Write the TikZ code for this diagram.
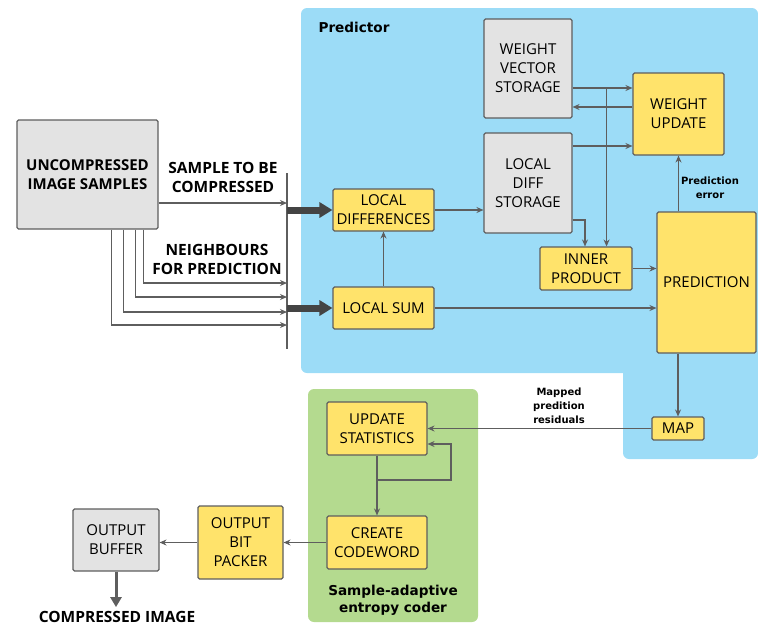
\documentclass[tikz,border=0pt]{standalone}
\usepackage{fontspec}
\setmainfont{Open Sans}
\newfontfamily\labelfont{DejaVu Sans}
\usetikzlibrary{arrows.meta,calc}
\definecolor{predblue}{HTML}{9CDCF7}
\definecolor{codergreen}{HTML}{B4DA8F}
\definecolor{boxyellow}{HTML}{FFE36B}
\definecolor{boxgray}{HTML}{E3E3E3}
\definecolor{edge}{HTML}{5E5E5E}
\definecolor{fatarrow}{HTML}{444444}
\tikzset{
  block/.style={draw=edge, line width=1.1pt, rounded corners=1.5pt, align=center,
    inner sep=0pt, font=\fontsize{15}{19}\selectfont},
  ybox/.style={block, fill=boxyellow},
  gbox/.style={block, fill=boxgray},
  arr/.style={draw=edge, line width=1.1pt, -{Stealth[length=7pt,width=6pt]}},
  fat/.style={draw=fatarrow, line width=7pt, -{Triangle[length=13pt,width=15pt]}},
  sidelabel/.style={align=center, font=\bfseries\fontsize{15.5}{19}\selectfont},
  smalllabel/.style={align=center, font=\labelfont\bfseries\fontsize{10}{14}\selectfont},
  regionlabel/.style={align=center, font=\labelfont\bfseries\fontsize{13.6}{17}\selectfont},
}
\begin{document}
\begin{tikzpicture}[x=1pt,y=-1pt]
\useasboundingbox (0,0) rectangle (758,625);

% background regions
\fill[predblue, rounded corners=6pt] (301,8) -- (758,8) -- (758,459) -- (623,459)
  {[sharp corners] -- (623,373)} -- (301,373) -- cycle;
\fill[codergreen, rounded corners=6pt] (308,389) rectangle (478,622);
\node[regionlabel] (predlbl) at (354,27) {Predictor};
\node[regionlabel] (coderlbl) at (393,600) {Sample-adaptive\\entropy coder};

% blocks
\node[gbox, minimum width=141pt, minimum height=109pt, font=\bfseries\fontsize{15}{19}\selectfont]
  (uis) at (87.5,174.5) {UNCOMPRESSED\\IMAGE SAMPLES};
\node[ybox, minimum width=101pt, minimum height=42pt] (ld) at (383.5,210) {LOCAL\\DIFFERENCES};
\node[ybox, minimum width=101pt, minimum height=42pt] (ls) at (383.5,308) {LOCAL SUM};
\node[gbox, minimum width=88pt, minimum height=100pt] (lds) at (528,183) {LOCAL\\DIFF\\STORAGE};
\node[gbox, minimum width=88pt, minimum height=99pt] (wvs) at (528,68.5) {WEIGHT\\VECTOR\\STORAGE};
\node[ybox, minimum width=91pt, minimum height=82pt] (wu) at (678.5,114) {WEIGHT\\UPDATE};
\node[ybox, minimum width=92pt, minimum height=43pt] (ip) at (586,268.5) {INNER\\PRODUCT};
\node[ybox, minimum width=99pt, minimum height=141pt] (pred) at (706.5,282.5) {PREDICTION};
\node[ybox, minimum width=52pt, minimum height=23pt] (map) at (678,428.5) {MAP};
\node[ybox, minimum width=100pt, minimum height=53pt] (us) at (377,428.5) {UPDATE\\STATISTICS};
\node[ybox, minimum width=100pt, minimum height=53pt] (cc) at (377,542.5) {CREATE\\CODEWORD};
\node[ybox, minimum width=85pt, minimum height=73pt] (obp) at (240.5,542.5) {OUTPUT\\BIT\\PACKER};
\node[gbox, minimum width=86pt, minimum height=62pt] (ob) at (116,540) {OUTPUT\\BUFFER};

% input labels
\node[sidelabel] (stbc) at (223,177) {SAMPLE TO BE\\COMPRESSED};
\node[sidelabel] (nfp) at (217,259) {NEIGHBOURS\\FOR PREDICTION};
\node[sidelabel, inner sep=0pt] (ci) at (117,617) {COMPRESSED IMAGE};

% input bus
\coordinate (bartop) at (287,173);
\coordinate (barbot) at (287,349);
\draw[edge, line width=1.4pt] (bartop) -- (barbot);
\coordinate (n1) at (287,283);
\coordinate (n2) at (287,297);
\coordinate (n3) at (287,312);
\coordinate (n4) at (287,325);

\draw[arr] ([yshift=-28.5pt]uis.east) coordinate (s0) -- (s0 -| bartop);
\draw[arr] ([xshift=127pt]uis.south west) |- (n1);
\draw[arr] ([xshift=119pt]uis.south west) |- (n2);
\draw[arr] ([xshift=107pt]uis.south west) |- (n3);
\draw[arr] ([xshift=95pt]uis.south west) |- (n4);

\draw[fat] (ld.west -| bartop) -- (ld.west);
\draw[fat] (ls.west -| bartop) -- (ls.west);

% predictor connections
\draw[arr] (ls.north) -- (ld.south);
\draw[arr] (ld.east) -- (ld.east -| lds.west);
\draw[arr] ([yshift=-19.5pt]wvs.east) coordinate (a1) -- (a1 -| wu.west);
\draw[arr] ([yshift=7pt]wu.west) coordinate (a2) -- (a2 -| wvs.east);
\draw[arr] ([yshift=37pt]lds.east) coordinate (a3) -- (a3 -| wu.west);
\draw[arr] ([xshift=34pt]a1) -- ([xshift=34pt]a1 |- ip.north);
\draw[arr] ([yshift=-37pt]lds.east) -| ([xshift=-1pt]ip.north);
\draw[arr] (ip.east) -- (ip.east -| pred.west);
\draw[arr] (ls.east) -- (ls.east -| pred.west);
\draw[arr] (pred.north -| wu.south) -- (wu.south);
\node[smalllabel] (perr) at (710,188) {Prediction\\error};
\draw[arr] (pred.south -| map.north) -- (map.north);

% entropy coder connections
\draw[arr] (map.west) -- (map.west -| us.east);
\node[smalllabel] (mpr) at (559,406) {Mapped\\predition\\residuals};
\coordinate (j) at (us.south |- 0,480);
\draw[arr] (us.south) -- (cc.north);
\draw[arr] (j) -- ++(74,0) |- ([yshift=-15.5pt]us.east);
\draw[arr] (cc.west) -- (cc.west -| obp.east);
\draw[arr] (obp.west) -- (obp.west -| ob.east);
\draw[draw=edge, line width=3pt, -{Triangle[length=10pt,width=11pt]}] (ob.south) -- ([yshift=4pt]ci.north -| ob.south);
\end{tikzpicture}
\end{document}
